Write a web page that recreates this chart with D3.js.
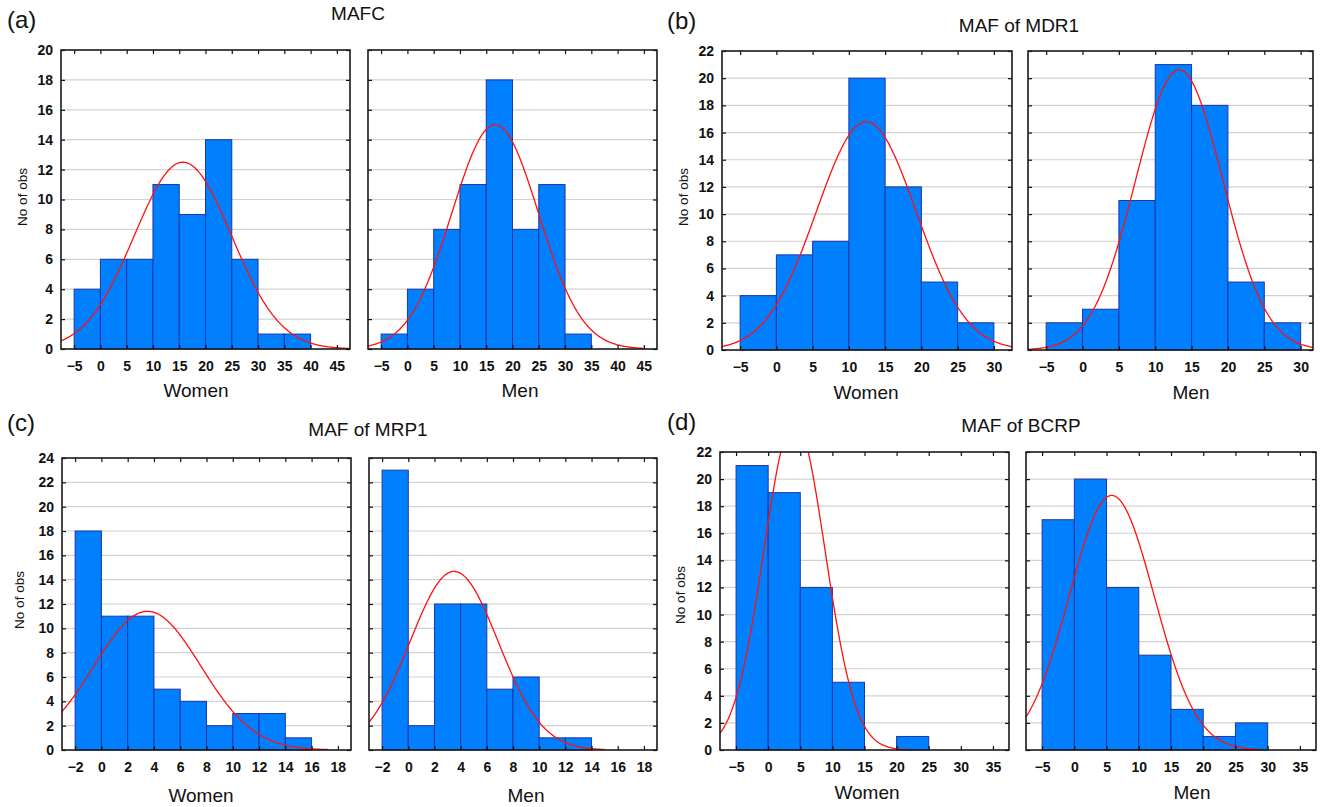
<!DOCTYPE html>
<html>
<head>
<meta charset="utf-8">
<script src="https://cdn.jsdelivr.net/npm/d3@7"></script>
<style>
  body { margin: 0; background: #fff; }
  svg text { font-family: "Liberation Sans", Arial, sans-serif; fill: #111; }
</style>
</head>
<body>
<svg id="chart" width="1320" height="807"></svg>
<script>
// histogram counts
const mafcWomen = [4, 6, 6, 11, 9, 14, 6, 1, 1];
const mafcMen   = [1, 4, 8, 11, 18, 8, 11, 1];
const mdr1Women = [4, 7, 8, 20, 12, 5, 2];
const mdr1Men   = [2, 3, 11, 21, 18, 5, 2];
const mrp1Women = [18, 11, 11, 5, 4, 2, 3, 3, 1];
const mrp1Men   = [23, 2, 12, 12, 5, 6, 1, 1];
const bcrpWomen = [21, 19, 12, 5, 0, 1];
const bcrpMen   = [17, 20, 12, 7, 3, 1, 2];

// first bin start and bin width
const mafcBins = [-5, 5];
const mdr1Bins = [-5, 5];
const mrp1Bins = [-2, 2];
const bcrpBins = [-5, 5];

// fitted normal curves: mean, sd, last x drawn
const mafcWomenFit = [15.7, 9.26, 47.5];
const mafcMenFit   = [16.7, 8.24, 45];
const mdr1WomenFit = [12.4, 6.89, 32.5];
const mdr1MenFit   = [13.3, 6.0, 31.7];
const mrp1WomenFit = [3.5, 4.06, 17.3];
const mrp1MenFit   = [3.5, 3.37, 15];
const bcrpWomenFit = [4.1, 4.75, 21.7];
const bcrpMenFit   = [5.8, 6.58, 28.8];

// axis ticks
const mafcXTicks = [-5, 0, 5, 10, 15, 20, 25, 30, 35, 40, 45];
const mdr1XTicks = [-5, 0, 5, 10, 15, 20, 25, 30];
const mrp1XTicks = [-2, 0, 2, 4, 6, 8, 10, 12, 14, 16, 18];
const bcrpXTicks = [-5, 0, 5, 10, 15, 20, 25, 30, 35];
const yTicks20 = d3.range(0, 21, 2);
const yTicks22 = d3.range(0, 23, 2);
const yTicks24 = d3.range(0, 25, 2);

const panelTitles = ["MAFC", "MAF of MDR1", "MAF of MRP1", "MAF of BCRP"];
const panelLetters = ["(a)", "(b)", "(c)", "(d)"];

const svg = d3.select("#chart");

// layout of the 8 plots (frame boxes in px); women plots carry the y labels
const plots = [
  {counts: mafcWomen, bins: mafcBins, fit: mafcWomenFit, xt: mafcXTicks, yt: yTicks20, xd: [-7.5, 47.5], x0: 61,   x1: 350,  y0: 50,  y1: 349, label: "Women", lx: 196,  ly: 397, yLab: true, ylx: 22, yly: 197},
  {counts: mafcMen,   bins: mafcBins, fit: mafcMenFit,   xt: mafcXTicks, yt: yTicks20, xd: [-7.5, 47.5], x0: 368,  x1: 657,  y0: 50,  y1: 349, label: "Men",   lx: 520,  ly: 397},
  {counts: mdr1Women, bins: mdr1Bins, fit: mdr1WomenFit, xt: mdr1XTicks, yt: yTicks22, xd: [-7.5, 32.5], x0: 722,  x1: 1012, y0: 51,  y1: 350, label: "Women", lx: 866,  ly: 399, yLab: true, ylx: 683, yly: 197},
  {counts: mdr1Men,   bins: mdr1Bins, fit: mdr1MenFit,   xt: mdr1XTicks, yt: yTicks22, xd: [-7.5, 31.7], x0: 1028, x1: 1313, y0: 51,  y1: 350, label: "Men",   lx: 1191, ly: 399},
  {counts: mrp1Women, bins: mrp1Bins, fit: mrp1WomenFit, xt: mrp1XTicks, yt: yTicks24, xd: [-3, 19],     x0: 62,   x1: 351,  y0: 458, y1: 750, label: "Women", lx: 201,  ly: 802, yLab: true, ylx: 19, yly: 600},
  {counts: mrp1Men,   bins: mrp1Bins, fit: mrp1MenFit,   xt: mrp1XTicks, yt: yTicks24, xd: [-3, 19],     x0: 369,  x1: 657,  y0: 458, y1: 750, label: "Men",   lx: 526,  ly: 802},
  {counts: bcrpWomen, bins: bcrpBins, fit: bcrpWomenFit, xt: bcrpXTicks, yt: yTicks22, xd: [-7.5, 37.5], x0: 720,  x1: 1009, y0: 452, y1: 750, label: "Women", lx: 867,  ly: 799, yLab: true, ylx: 680, yly: 595},
  {counts: bcrpMen,   bins: bcrpBins, fit: bcrpMenFit,   xt: bcrpXTicks, yt: yTicks22, xd: [-7.5, 37.5], x0: 1026, x1: 1316, y0: 452, y1: 750, label: "Men",   lx: 1192, ly: 799}
];

const titlePos = [[358, 20], [1019, 32], [368, 436], [1021, 432]];
const letterPos = [[7, 28], [667, 29], [7, 431], [667, 430]];

panelTitles.forEach((t, i) => {
  svg.append("text").attr("x", titlePos[i][0]).attr("y", titlePos[i][1])
    .attr("text-anchor", "middle").style("font-size", "19px").text(t);
  svg.append("text").attr("x", letterPos[i][0]).attr("y", letterPos[i][1])
    .style("font-size", "24px").text(panelLetters[i]);
});

plots.forEach((p, i) => {
  const x = d3.scaleLinear().domain(p.xd).range([p.x0, p.x1]);
  const y = d3.scaleLinear().domain([0, d3.max(p.yt)]).range([p.y1, p.y0]);
  const g = svg.append("g");

  // clip for the curve
  g.append("clipPath").attr("id", "clip" + i)
    .append("rect").attr("x", p.x0).attr("y", p.y0)
    .attr("width", p.x1 - p.x0).attr("height", p.y1 - p.y0);

  // grid lines
  g.selectAll(".grid").data(p.yt.slice(1, -1)).enter()
    .append("line")
    .attr("x1", p.x0).attr("x2", p.x1)
    .attr("y1", d => y(d)).attr("y2", d => y(d))
    .attr("stroke", "#d2d2d2").attr("stroke-width", 1.2);

  // bars
  const w = p.bins[1];
  g.selectAll(".bar").data(p.counts).enter()
    .append("rect")
    .attr("x", (d, k) => x(p.bins[0] + k * w))
    .attr("width", (d, k) => x(p.bins[0] + (k + 1) * w) - x(p.bins[0] + k * w))
    .attr("y", d => y(d))
    .attr("height", d => y(0) - y(d))
    .attr("fill", "#0080ff")
    .attr("stroke", "#1c35a8")
    .attr("stroke-width", d => d > 0 ? 1 : 0);

  // normal curve
  const n = d3.sum(p.counts);
  const [mu, sd, xEnd] = p.fit;
  const pdf = v => n * w * Math.exp(-0.5 * ((v - mu) / sd) ** 2) / (sd * Math.sqrt(2 * Math.PI));
  const xs = d3.range(p.xd[0], xEnd, (xEnd - p.xd[0]) / 300).concat([xEnd]);
  g.append("path")
    .datum(xs)
    .attr("clip-path", `url(#clip${i})`)
    .attr("fill", "none")
    .attr("stroke", "#ff1010")
    .attr("stroke-width", 1.3)
    .attr("d", d3.line().x(v => x(v)).y(v => y(pdf(v))));

  // axes with inward ticks
  const xAxis = g.append("g").attr("transform", `translate(0,${p.y1})`)
    .call(d3.axisBottom(x).tickValues(p.xt).tickSize(-4).tickPadding(12));
  const yAxis = g.append("g").attr("transform", `translate(${p.x0},0)`)
    .call(d3.axisLeft(y).tickValues(p.yt).tickSize(-4).tickPadding(8)
      .tickFormat(p.yLab ? d3.format("d") : ""));
  g.append("g").attr("transform", `translate(0,${p.y0})`)
    .call(d3.axisTop(x).tickValues(p.xt).tickSize(-4).tickFormat(""));
  g.append("g").attr("transform", `translate(${p.x1},0)`)
    .call(d3.axisRight(y).tickValues(p.yt).tickSize(-4).tickFormat(""));
  g.selectAll(".domain").remove();
  g.selectAll(".tick line").attr("stroke", "#111").attr("stroke-width", 1.2);
  [xAxis, yAxis].forEach(a => a.selectAll("text")
    .style("font-size", "14px").style("font-weight", "bold").attr("fill", "#222"));

  // frame
  g.append("rect")
    .attr("x", p.x0).attr("y", p.y0)
    .attr("width", p.x1 - p.x0).attr("height", p.y1 - p.y0)
    .attr("fill", "none").attr("stroke", "#1a1a1a").attr("stroke-width", 1.6);

  // axis titles
  g.append("text").attr("x", p.lx).attr("y", p.ly)
    .attr("text-anchor", "middle").style("font-size", "19px").text(p.label);
  if (p.yLab) {
    g.append("text")
      .attr("transform", `translate(${p.ylx},${p.yly}) rotate(-90)`)
      .attr("text-anchor", "middle").attr("dy", "0.35em")
      .style("font-size", "13.5px").text("No of obs");
  }
});
</script>
</body>
</html>
